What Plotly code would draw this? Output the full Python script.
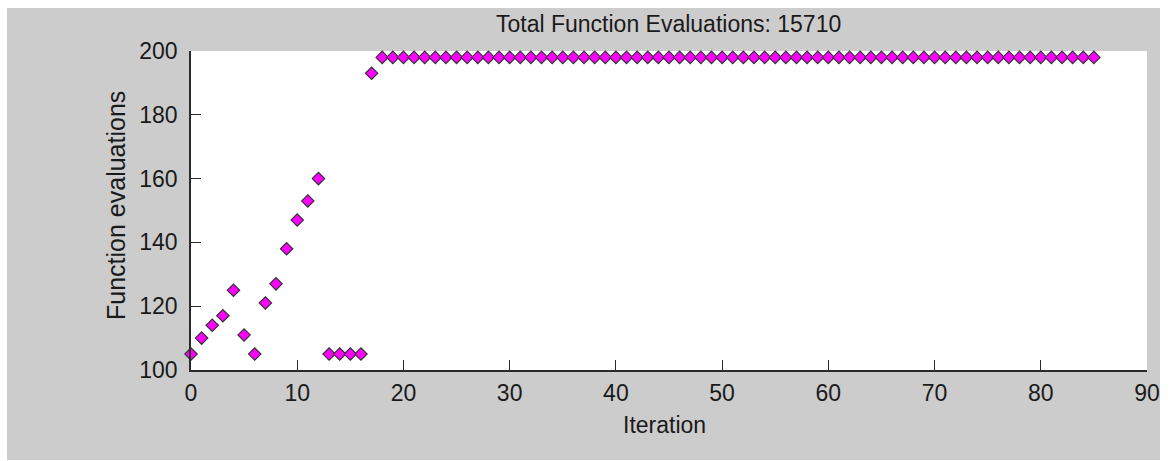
import plotly.graph_objects as go

iterations = list(range(0, 86))
evals_early = [105, 110, 114, 117, 125, 111, 105, 121, 127, 138, 147, 153, 160,
               105, 105, 105, 105, 193]
evals_late = [198] * 68
evals = evals_early + evals_late

x_ticks = [0, 10, 20, 30, 40, 50, 60, 70, 80, 90]
y_ticks = [100, 120, 140, 160, 180, 200]
title_text = "Total Function Evaluations: " + str(sum(evals))

# figure sits at page offset (7, 8) because of the body margin set below
OX, OY = 7, 8
W, H = 1153, 452
L, R, T, B = 191 - OX, 1160 - 1147, 51 - OY, 460 - 370
pw, ph = W - L - R, H - T - B

def px(page_x):
    return (page_x - OX - L) / pw

def py(page_y):
    return (H - B - (page_y - OY)) / ph

fig = go.Figure()
fig.add_trace(go.Scatter(
    x=iterations, y=evals, mode="markers", cliponaxis=False,
    marker=dict(symbol="diamond", size=9.5, color="#ff00ff",
                line=dict(color="#333333", width=1.2)),
    hoverinfo="x+y", showlegend=False,
))

font = "Liberation Sans, Arial, sans-serif"
txt = "#1a1a1a"
axis_common = dict(
    showgrid=False, zeroline=False, showline=True, linecolor="#2a2a2a",
    linewidth=1.5, ticks="inside", ticklen=10, tickwidth=1.4, tickcolor="#2a2a2a",
    tickfont=dict(family=font, size=23, color=txt), mirror=False, automargin=False,
)

fig.update_layout(
    width=W, height=H,
    margin=dict(l=L, r=R, t=T, b=B, pad=0, autoexpand=False),
    paper_bgcolor="#cccccc", plot_bgcolor="#ffffff",
    xaxis=dict(range=[0, 90], tickvals=x_ticks, ticklabelstandoff=2, **axis_common),
    yaxis=dict(range=[100, 200], tickvals=y_ticks, ticklabelstandoff=7, **axis_common),
    annotations=[
        dict(text=title_text, xref="paper", yref="paper",
             x=px(668), y=py(24), xanchor="center", yanchor="middle",
             showarrow=False, font=dict(family=font, size=23, color=txt)),
        dict(text="Iteration", xref="paper", yref="paper",
             x=px(664), y=py(425), xanchor="center", yanchor="middle",
             showarrow=False, font=dict(family=font, size=23, color=txt)),
        dict(text="Function evaluations", xref="paper", yref="paper",
             x=px(116), y=py(206), xanchor="center", yanchor="middle", textangle=-90,
             showarrow=False, font=dict(family=font, size=25, color=txt)),
    ],
)

fig.write_html("out.html",
               post_script="document.body.style.margin='8px 10px 1px 7px';"
                           "document.body.style.background='#ffffff';")
